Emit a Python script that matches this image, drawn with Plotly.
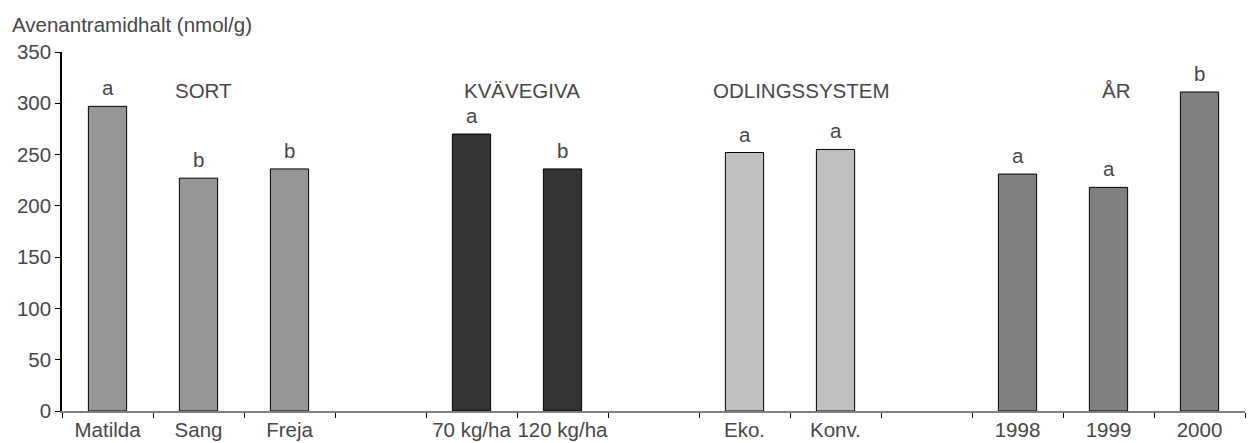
import plotly.graph_objects as go

# ---- data ----
categories = ["Matilda", "Sang", "Freja", " ", "70 kg/ha", "120 kg/ha", "  ",
              "Eko.", "Konv.", "   ", "1998", "1999", "2000"]

sort_cats = ["Matilda", "Sang", "Freja"]
sort_vals = [297, 227, 236]
sort_sig = ["a", "b", "b"]

kvave_cats = ["70 kg/ha", "120 kg/ha"]
kvave_vals = [270, 236]
kvave_sig = ["a", "b"]

odling_cats = ["Eko.", "Konv."]
odling_vals = [252, 255]
odling_sig = ["a", "a"]

ar_cats = ["1998", "1999", "2000"]
ar_vals = [231, 218, 311]
ar_sig = ["a", "a", "b"]

group_titles = ["SORT", "KVÄVEGIVA", "ODLINGSSYSTEM", "ÅR"]
group_title_pos = [1.06, 4.55, 7.63, 11.08]  # category-index positions

y_title = "Avenantramidhalt (nmol/g)"

FONT = "Liberation Sans, Arial, sans-serif"
TXT = "#474747"
FS = 20.5

groups = [
    (sort_cats, sort_vals, sort_sig, "#969696"),
    (kvave_cats, kvave_vals, kvave_sig, "#333333"),
    (odling_cats, odling_vals, odling_sig, "#c0c0c0"),
    (ar_cats, ar_vals, ar_sig, "#808080"),
]

fig = go.Figure()
annotations = []
for cats, vals, sig, col in groups:
    fig.add_trace(go.Bar(
        x=cats, y=vals, width=0.42,
        marker=dict(color=col, line=dict(color="#000000", width=1)),
        showlegend=False, hoverinfo="x+y",
    ))
    for c, v, s in zip(cats, vals, sig):
        annotations.append(dict(
            x=categories.index(c), y=v, xref="x", yref="y", text=s,
            showarrow=False, yanchor="bottom", yshift=5,
            font=dict(family=FONT, size=FS, color=TXT),
        ))

for t, p in zip(group_titles, group_title_pos):
    annotations.append(dict(
        x=p, y=312, xref="x", yref="y", text=t, showarrow=False,
        xanchor="center", yanchor="middle",
        font=dict(family=FONT, size=FS, color=TXT),
    ))

annotations.append(dict(
    x=-0.044, y=1.038, xref="paper", yref="paper", text=y_title,
    showarrow=False, xanchor="left", yanchor="bottom",
    font=dict(family=FONT, size=FS, color=TXT),
))

fig.update_layout(
    width=1252, height=443,
    margin=dict(l=62, r=7, t=52, b=32, autoexpand=False),
    plot_bgcolor="white", paper_bgcolor="white",
    barmode="overlay",
    font=dict(family=FONT, size=FS, color=TXT),
    annotations=annotations,
    xaxis=dict(
        type="category", categoryorder="array", categoryarray=categories,
        range=[-0.5, len(categories) - 0.5],
        tickmode="array", tickvals=categories, ticktext=categories,
        tickson="boundaries", ticks="outside", ticklen=5, tickcolor="#000000",
        tickangle=0, automargin=False,
        showline=True, linecolor="#808080", linewidth=1.5,
        showgrid=False, zeroline=False,
        tickfont=dict(family=FONT, size=FS, color=TXT),
    ),
    yaxis=dict(
        range=[0, 350], dtick=50, tick0=0, automargin=False,
        ticks="outside", ticklen=5, tickcolor="#000000",
        showline=True, linecolor="#000000", linewidth=1.5,
        showgrid=False, zeroline=False,
        tickfont=dict(family=FONT, size=FS, color=TXT),
    ),
)

fig.write_html(
    "out.html",
    config={"displayModeBar": False},
    post_script="document.body.style.margin='0';document.body.style.padding='0';"
                "document.documentElement.style.overflow='hidden';",
)
